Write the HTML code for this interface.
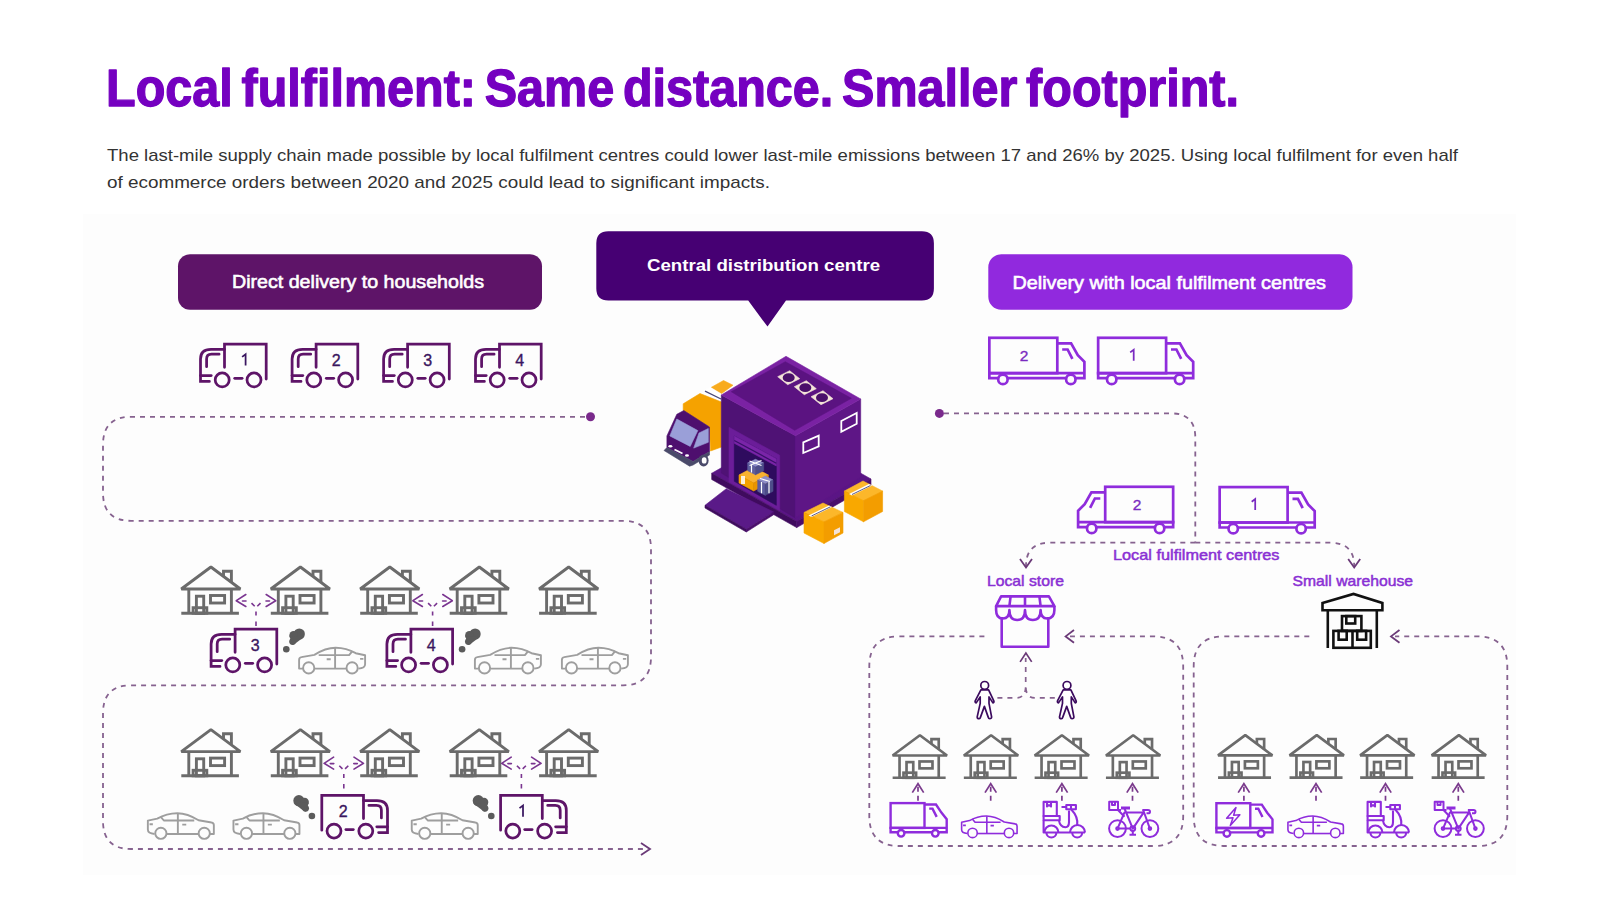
<!DOCTYPE html>
<html><head><meta charset="utf-8">
<style>
html,body{margin:0;padding:0;background:#fff;width:1600px;height:900px;overflow:hidden}
svg{display:block}
text{font-family:"Liberation Sans",sans-serif}
</style></head>
<body>
<svg width="1600" height="900" viewBox="0 0 1600 900">
<defs>

<g id="truckA" fill="none" stroke="#5e1468" stroke-width="2.75" stroke-linecap="round">
<path d="M25.5,24.3 V1.1 H67.2 V36"/>
<path d="M25.5,6.3 H12 Q1.5,6.3 1.5,16 V38.4 H10.4"/>
<path d="M1.5,32.6 H12.2"/>
<path d="M20.1,11.2 H12.5 Q7.6,11.2 7.6,16 V23.7"/>
<circle cx="23.2" cy="36.9" r="7"/>
<circle cx="55" cy="36.9" r="7"/>
<path d="M35.7,35.3 H43.1"/>
</g>
<g id="truckB" fill="none" stroke="#8f2cdc" stroke-width="2.7">
<rect x="1.35" y="1.8" width="67.95" height="35.4"/>
<path d="M69.3,7.3 H83.1 L89.8,19.1 L96.4,25.8 V42.2 H1.35 V37.2 H96.4"/>
<path d="M74.2,13.5 H79.6 L84.4,22.9"/>
<circle cx="14.9" cy="43.4" r="4.7" fill="#fcfcfc"/>
<circle cx="82.8" cy="43.4" r="4.7" fill="#fcfcfc"/>
</g>
<g id="truckS" fill="none" stroke="#8f2cdc" stroke-width="2.4">
<rect x="1.6" y="1.6" width="33.9" height="24.8"/>
<path d="M35.5,3 H47 L52.4,11.1 L57.7,17.7 V30.8 H1.6 V26.4 H57.7"/>
<path d="M40.2,7.1 H43.5 L47.7,15.4"/>
<circle cx="12.1" cy="31.8" r="3.3" fill="#fcfcfc"/>
<circle cx="46.3" cy="31.8" r="3.3" fill="#fcfcfc"/>
</g>
<g id="house" fill="none" stroke="#6b6b6b" stroke-width="2.9" stroke-linejoin="miter">
<path d="M0.7,22.6 L30.3,0.6 L59.8,22.6 Z" stroke-linejoin="bevel"/>
<path d="M42.9,9.8 V4.8 H50.8 V15.8"/>
<path d="M8.2,22.6 V46.8 M50.8,22.6 V46.8"/>
<path d="M0.7,46.8 H58.3"/>
<rect x="15.8" y="29.8" width="7.3" height="17"/>
<rect x="12.5" y="41.3" width="13.7" height="5.5"/>
<rect x="29.9" y="29.1" width="14.1" height="7.5"/>
</g>
<g id="car" fill="none" stroke-width="1.9" stroke-linejoin="round">
<path d="M5.7,21.7 H1.7 V13 Q1.7,10.5 4,10.2 L17,8 Q28,1 38.3,0.9 Q49,1 58.3,6.3 L67.7,8.3 V17.3 Q67.7,21.3 61,21.7"/>
<path d="M17,21.7 H49.1"/>
<circle cx="11.3" cy="21" r="5.6"/>
<circle cx="54.7" cy="21" r="5.6"/>
<path d="M21.3,8.2 H51.7 L55,4.3"/>
<path d="M37.7,1 V21.7"/>
<path d="M29.3,12.3 H33.3 M62.7,12 H66"/>
</g>
<g id="smoke" fill="#5b5b5b">
<circle cx="16.3" cy="6" r="5.6"/>
<circle cx="10.6" cy="7.4" r="4.3"/>
<circle cx="9.6" cy="13.6" r="3.4"/>
<polygon points="6.5,8 21.5,8.5 13,15 9.5,17"/>
<circle cx="3.3" cy="21.3" r="3.3"/>
</g>
<g id="yarr" fill="none" stroke="#7a3590" stroke-width="1.6" stroke-linejoin="round" stroke-linecap="round">
<path d="M-10.2,-6 L-19.7,0.2 L-10.2,6 M10.2,-6 L19.7,0.2 L10.2,6"/>
<path d="M-13.5,0.5 H-10 M10,0.5 H13.5"/>
<path d="M-4.5,2.6 L-1.3,5.8 M1.3,5.8 L4.5,2.6 M0,11 V15 M0,21 V25.5" stroke-linecap="butt"/>
</g>
<g id="uparr" fill="none" stroke="#7a3a8c" stroke-width="1.7">
<path d="M-5.7,8.9 L0,0 L5.7,8.9"/>
<path d="M0,3 V18" stroke-dasharray="5 4"/>
</g>
<g id="store" fill="none" stroke="#8f2cdc" stroke-width="2.6" stroke-linejoin="round">
<path d="M6.1,1.4 H53.9 L59.4,11.1 H1.1 Z"/>
<path d="M15.6,1.4 L14.4,11.1 M30,1.4 V11.1 M44.4,1.4 L45.6,11.1"/>
<path d="M1.1,11.1 V15 Q1.1,23.5 7.8,23.5 Q14.4,23.5 14.4,15 Q14.4,25 22.2,25 Q30,25 30,15 Q30,25 37.8,25 Q45.6,25 45.6,15 Q45.6,23.5 52.2,23.5 Q59.4,23.5 59.4,15 V11.1"/>
<path d="M6.7,22 V51.7 H53.3 V22"/>
</g>
<g id="warehouse" fill="none" stroke="#111" stroke-width="2.6">
<path d="M2.5,9.9 L33.5,0.9 L62.4,9.9 V17.3 H2.5 Z"/>
<path d="M7.8,17.3 V55 M56.8,17.3 V55"/>
<rect x="22" y="23.1" width="19.4" height="14.8"/>
<rect x="26.3" y="23.1" width="8.9" height="7.4"/>
<rect x="13.4" y="37.9" width="37.4" height="16.9"/>
<path d="M32.5,37.9 V54.8"/>
<rect x="18.6" y="37.9" width="8.1" height="8.8"/>
<rect x="37.2" y="37.9" width="8.9" height="8.8"/>
</g>
<g id="person" fill="#fff" stroke="#3b0a5e" stroke-width="1.7" stroke-linejoin="round">
<circle cx="0" cy="0" r="3.9"/>
<path d="M-3.8,4.5 L-9.5,15.5 Q-10,17 -8.5,17.5 L-4.5,11.5 L-4.5,18 L-7.5,31.5 Q-7.5,33.3 -5.5,33.3 Q-4.5,33.3 -4.3,32 L-0.3,21 L3.6,32 Q3.8,33.3 5,33.3 Q7,33.3 6.9,31.5 L4.3,18 L4.3,11.5 L8.2,17.5 Q9.7,17 9.1,15.5 L3.9,4.5 Z"/>
</g>
<g id="scooter" fill="none" stroke="#8f2cdc" stroke-width="2.1" stroke-linejoin="round">
<rect x="1.6" y="1.9" width="13.2" height="14.1"/>
<path d="M5,1.9 V6.5 L7,5 L9,6.5 V1.9"/>
<rect x="1.6" y="16" width="16.1" height="4.2"/>
<path d="M1.6,20.2 V32.5 H43"/>
<path d="M2.4,32.5 A7,7 0 0 1 16.4,32.5"/>
<path d="M4.4,32.5 A5,5 0 0 0 14.4,32.5"/>
<path d="M28,32.5 A7.5,7.5 0 0 1 43,32.5"/>
<path d="M30.2,32.5 A5,5 0 0 0 40.2,32.5"/>
<path d="M16.9,20.2 Q18,27.2 23.4,27.2 Q27,27.2 27,22 V10.6"/>
<path d="M29.1,9.3 Q36.5,17 35.2,25.5"/>
<rect x="24.3" y="5" width="9.6" height="4.3"/>
<path d="M19.5,7 H24.3 M29,5 V9.3"/>
</g>
<g id="bike" fill="none" stroke="#8f2cdc" stroke-width="2" stroke-linejoin="round">
<circle cx="9.5" cy="28.6" r="8.4"/>
<circle cx="41.9" cy="28.6" r="8.4"/>
<circle cx="9.5" cy="28.6" r="1.3"/>
<circle cx="41.9" cy="28.6" r="1.3"/>
<circle cx="24.8" cy="28.6" r="2.4"/>
<path d="M9.5,28.6 H22.4 M9.5,28.6 L16.5,12.4 H35.7 L24.8,28.6 L16.5,8.5 M35,9.5 L41.9,28.6"/>
<path d="M13,8 H22" stroke-width="3"/>
<path d="M34.5,10 H40 Q42,10 42,11.7 Q42,13.3 40,13.3 H38.5"/>
<rect x="1.2" y="1.8" width="8.8" height="8.2"/>
<path d="M4,1.8 V5 H7 V1.8 M10,10 H13 M10,10 L16.5,16.7"/>
<path d="M24.8,31 V34.7 M21.5,34.7 H28"/>
</g>

</defs>
<rect x="0" y="0" width="1600" height="900" fill="#fff"/>
<rect x="83" y="214" width="1433" height="661" fill="#fdfdfd"/>

<!-- TITLE -->
<text x="106" y="105.6" font-size="51" font-weight="bold" fill="#7500c0" stroke="#7500c0" stroke-width="1.3" stroke-linejoin="round" word-spacing="-5" textLength="1133" lengthAdjust="spacingAndGlyphs">Local fulfilment: Same distance. Smaller footprint.</text>
<text x="107" y="160.6" font-size="17" fill="#333" textLength="1351" lengthAdjust="spacingAndGlyphs">The last-mile supply chain made possible by local fulfilment centres could lower last-mile emissions between 17 and 26% by 2025. Using local fulfilment for even half</text>
<text x="107" y="187.5" font-size="17" fill="#333" textLength="663" lengthAdjust="spacingAndGlyphs">of ecommerce orders between 2020 and 2025 could lead to significant impacts.</text>

<!-- LABEL BOXES -->
<rect x="178" y="254.3" width="364" height="55.5" rx="12" fill="#5e1468"/>
<text x="232" y="288.2" font-size="18.8" fill="#fff" stroke="#fff" stroke-width="0.6" textLength="252" lengthAdjust="spacingAndGlyphs">Direct delivery to households</text>

<path d="M608.3,231.3 H921.9 Q933.9,231.3 933.9,243.3 V288.6 Q933.9,300.6 921.9,300.6 H786 L767.5,326.6 L748.2,300.6 H608.3 Q596.3,300.6 596.3,288.6 V243.3 Q596.3,231.3 608.3,231.3 Z" fill="#460073"/>
<text x="647" y="270.9" font-size="17" font-weight="bold" fill="#fff" textLength="233" lengthAdjust="spacingAndGlyphs">Central distribution centre</text>

<rect x="988.3" y="254.3" width="364.2" height="55.5" rx="13" fill="#9129de"/>
<text x="1012.5" y="288.7" font-size="18.5" fill="#fff" stroke="#fff" stroke-width="0.6" textLength="313.5" lengthAdjust="spacingAndGlyphs">Delivery with local fulfilment centres</text>

<!-- LEFT PATH -->
<g fill="none" stroke="#86628f" stroke-width="1.8" stroke-dasharray="5 5">
<path d="M585,416.8 H131 Q103,416.8 103,444.8 V492.8 Q103,520.8 131,520.8 H623 Q651,520.8 651,548.8 V657 Q651,685.3 623,685.3 H131 Q103,685.3 103,713.3 V821 Q103,849 131,849 H648"/>
</g>
<circle cx="590.5" cy="416.8" r="4.5" fill="#7a2a8c"/>
<path d="M641,843 L650,849 L641,855" fill="none" stroke="#6b3a78" stroke-width="1.8"/>

<!-- RIGHT PATHS -->
<g fill="none" stroke="#86628f" stroke-width="1.8" stroke-dasharray="5 5">
<path d="M944,413.4 H1171 Q1195.3,413.4 1195.3,437.7 V542.7"/>
<path d="M1195.3,542.7 H1050 Q1026,542.7 1026,566"/>
<path d="M1195.3,542.7 H1330 Q1354.2,542.7 1354.2,566"/>
</g>
<circle cx="939.4" cy="413.4" r="4.5" fill="#7a2a8c"/>
<path d="M1020,559 L1026,567.5 L1032,559 M1348.2,559 L1354.2,567.5 L1360.2,559" fill="none" stroke="#6b3a78" stroke-width="1.8"/>

<!-- LABELS RIGHT -->
<text x="1113" y="559.6" font-size="15" fill="#8a30d4" stroke="#8a30d4" stroke-width="0.5" textLength="166.5" lengthAdjust="spacingAndGlyphs">Local fulfilment centres</text>
<text x="986.9" y="586.1" font-size="15" fill="#8a30d4" stroke="#8a30d4" stroke-width="0.5" textLength="77" lengthAdjust="spacingAndGlyphs">Local store</text>
<text x="1292.5" y="585.8" font-size="15" fill="#8a30d4" stroke="#8a30d4" stroke-width="0.5" textLength="120.5" lengthAdjust="spacingAndGlyphs">Small warehouse</text>

<!-- BOTTOM RIGHT BOXES -->
<g fill="none" stroke="#86628f" stroke-width="1.8" stroke-dasharray="5 5">
<path d="M984.4,636.4 H899.3 Q869.3,636.4 869.3,666.4 V816 Q869.3,846 899.3,846 H1153.2 Q1183.2,846 1183.2,816 V666.4 Q1183.2,636.4 1153.2,636.4 H1070"/>
<path d="M1309.3,636.4 H1223.7 Q1193.7,636.4 1193.7,666.4 V816 Q1193.7,846 1223.7,846 H1477.3 Q1507.3,846 1507.3,816 V666.4 Q1507.3,636.4 1477.3,636.4 H1395"/>
</g>
<path d="M1074,630 L1065.6,636.4 L1074,642.8 M1399.5,630 L1391,636.4 L1399.5,642.8" fill="none" stroke="#6b3a78" stroke-width="1.8"/>

<!-- PLACED -->
<use href="#truckA" x="199" y="343"/>
<path d="M242.1,356.9 L245.6,354.3 V365.5" fill="none" stroke="#3a1660" stroke-width="1.75"/>
<use href="#truckA" x="290.6" y="343"/>
<text x="336.3" y="365.5" font-size="16" fill="#3a1660" stroke="#3a1660" stroke-width="0.35" text-anchor="middle">2</text>
<use href="#truckA" x="382.1" y="343"/>
<text x="427.8" y="365.5" font-size="16" fill="#3a1660" stroke="#3a1660" stroke-width="0.35" text-anchor="middle">3</text>
<use href="#truckA" x="474" y="343"/>
<text x="519.7" y="365.5" font-size="16" fill="#3a1660" stroke="#3a1660" stroke-width="0.35" text-anchor="middle">4</text>
<use href="#house" x="180.6" y="566.4"/>
<use href="#house" x="180.6" y="729"/>
<use href="#house" x="270.1" y="566.4"/>
<use href="#house" x="270.1" y="729"/>
<use href="#house" x="359.5" y="566.4"/>
<use href="#house" x="359.5" y="729"/>
<use href="#house" x="449.0" y="566.4"/>
<use href="#house" x="449.0" y="729"/>
<use href="#house" x="538.4" y="566.4"/>
<use href="#house" x="538.4" y="729"/>
<use href="#truckA" x="209.6" y="628"/>
<text x="255.3" y="650.5" font-size="16" fill="#3a1660" stroke="#3a1660" stroke-width="0.35" text-anchor="middle">3</text>
<use href="#truckA" x="385.4" y="628"/>
<text x="431.09999999999997" y="650.5" font-size="16" fill="#3a1660" stroke="#3a1660" stroke-width="0.35" text-anchor="middle">4</text>
<use href="#car" stroke="#9e9e9e" x="297.4" y="646.9"/>
<use href="#car" stroke="#9e9e9e" x="473.2" y="646.9"/>
<use href="#car" stroke="#9e9e9e" x="560.2" y="646.9"/>
<use href="#smoke" x="283" y="628"/>
<use href="#smoke" x="458.8" y="628"/>
<use href="#yarr" transform="translate(256,600.5)"/>
<use href="#yarr" transform="translate(432.6,600.5)"/>
<use href="#truckA" transform="translate(389,794.2) scale(-1,1)"/>
<text x="343.3" y="816.7" font-size="16" fill="#3a1660" stroke="#3a1660" stroke-width="0.35" text-anchor="middle">2</text>
<use href="#truckA" transform="translate(567.8,794.2) scale(-1,1)"/>
<path d="M519.5,808.1 L523.0,805.5 V816.7" fill="none" stroke="#3a1660" stroke-width="1.75"/>
<use href="#car" stroke="#9e9e9e" transform="translate(215.55,812.3) scale(-1,1)"/>
<use href="#car" stroke="#9e9e9e" transform="translate(301.15,812.3) scale(-1,1)"/>
<use href="#car" stroke="#9e9e9e" transform="translate(479.45,812.3) scale(-1,1)"/>
<use href="#smoke" transform="translate(315.2,794.7) scale(-1,1)"/>
<use href="#smoke" transform="translate(494.6,794.7) scale(-1,1)"/>
<use href="#yarr" transform="translate(343.8,763.1)"/>
<use href="#yarr" transform="translate(521.4,763.1)"/>
<use href="#truckB" x="988" y="336"/>
<text x="1024" y="360.7" font-size="15.5" fill="#7a2ac0" stroke="#7a2ac0" stroke-width="0.35" text-anchor="middle">2</text>
<use href="#truckB" x="1096.8" y="336"/>
<path d="M1130.2,352.4 L1133.7,349.8 V360.7" fill="none" stroke="#7a2ac0" stroke-width="1.75"/>
<use href="#truckB" transform="translate(1174.5,485) scale(-1,1)"/>
<text x="1137" y="509.7" font-size="15.5" fill="#7a2ac0" stroke="#7a2ac0" stroke-width="0.35" text-anchor="middle">2</text>
<use href="#truckB" x="1218.3" y="485.3"/>
<path d="M1251.7,501.8 L1255.2,499.1 V510.0" fill="none" stroke="#7a2ac0" stroke-width="1.75"/>
<use href="#house" transform="translate(892,734.7) scale(0.92)"/>
<use href="#house" transform="translate(963.2,734.7) scale(0.92)"/>
<use href="#house" transform="translate(1034,734.7) scale(0.92)"/>
<use href="#house" transform="translate(1105.3,734.7) scale(0.92)"/>
<use href="#house" transform="translate(1217.4,734.6) scale(0.92)"/>
<use href="#house" transform="translate(1288.9,734.6) scale(0.92)"/>
<use href="#house" transform="translate(1359.5,734.6) scale(0.92)"/>
<use href="#house" transform="translate(1431,734.6) scale(0.92)"/>
<use href="#truckS" x="889" y="801.5"/>
<use href="#car" stroke="#8f2cdc" stroke-width="2.7" transform="translate(1018.5,815.3) scale(-0.84,0.84)"/>
<use href="#scooter" x="1042" y="800"/>
<use href="#bike" x="1108" y="800"/>
<use href="#truckS" x="1214.8" y="801.6"/>
<polygon points="1236,807.6 1226.6,818.3 1233,817.8 1230.3,825.5 1239.9,814.8 1233.6,815.2" fill="none" stroke="#8f2cdc" stroke-width="1.5" stroke-linejoin="round"/>
<use href="#car" stroke="#8f2cdc" stroke-width="2.7" transform="translate(1344.8,815.3) scale(-0.84,0.84)"/>
<use href="#scooter" x="1366" y="800"/>
<use href="#bike" x="1433.5" y="800"/>
<use href="#uparr" transform="translate(918,783.7)"/>
<use href="#uparr" transform="translate(990.7,783.7)"/>
<use href="#uparr" transform="translate(1061.9,783.7)"/>
<use href="#uparr" transform="translate(1132.5,783.7)"/>
<use href="#uparr" transform="translate(1243.9,783.7)"/>
<use href="#uparr" transform="translate(1316,783.7)"/>
<use href="#uparr" transform="translate(1385.5,783.7)"/>
<use href="#uparr" transform="translate(1458.3,783.7)"/>
<use href="#person" x="984.7" y="685.4"/>
<use href="#person" x="1067" y="685.4"/>
<path d="M997.4,697.9 H1016 Q1025.7,697.9 1025.7,686 V658 M1054.8,697.9 H1035 Q1025.7,697.9 1025.7,686" fill="none" stroke="#86628f" stroke-width="1.7" stroke-dasharray="5 5"/>
<path d="M1020.1,661.9 L1025.9,653 L1031.7,661.9" fill="none" stroke="#6b3a78" stroke-width="1.7"/>
<use href="#store" x="995" y="595"/>
<use href="#warehouse" x="1320" y="593"/>
<g id="building">
<!-- truck behind -->
<polygon points="711,387.5 723.5,380.5 733,385.2 721,393.9" fill="#f8ab1e" stroke="#f8ab1e" stroke-width="0.6" stroke-linejoin="round"/>
<polygon points="699,393 710.6,387.5 721.5,394 721.5,402.5" fill="#ffffff" stroke="#ffffff" stroke-width="0.6" stroke-linejoin="round"/>
<path d="M705,391.2 L721,399" stroke="#4a4a78" stroke-width="1.3"/>
<polygon points="683.2,403.8 700,393.5 721.5,402 721.5,447 710.5,451 709.5,427 683.2,410.5" fill="#f5a200" stroke="#f5a200" stroke-width="0.6" stroke-linejoin="round"/>
<polygon points="676.8,414.3 683.8,410.5 709.5,427 709.5,451.6 693.1,461.5 666.9,447.6 666.9,435.9" fill="#4e0f6e" stroke="#4e0f6e" stroke-width="0.6" stroke-linejoin="round"/>
<polygon points="676.8,419 697.8,430.6 690.2,446.4 669.8,435.9" fill="#9a9fd8" stroke="#9a9fd8" stroke-width="0.6" stroke-linejoin="round"/>
<polygon points="699,433 708.3,428.5 708.3,442.3 693.7,448.1" fill="#9a9fd8" stroke="#9a9fd8" stroke-width="0.6" stroke-linejoin="round"/>
<polygon points="664,450.5 666.9,447.6 693.1,461.5 709.5,451.6 709.5,455 693.1,465 689.6,466.2" fill="#4a4a6a" stroke="#4a4a6a" stroke-width="0.6" stroke-linejoin="round"/>
<ellipse cx="703.6" cy="460.4" rx="5" ry="6" fill="#4a4a6a"/>
<ellipse cx="704.2" cy="460.4" rx="2.4" ry="3.2" fill="#fff"/>
<ellipse cx="670.4" cy="446.2" rx="2" ry="1.3" fill="#fff"/>
<ellipse cx="687" cy="455.5" rx="2" ry="1.3" fill="#fff"/>
<path d="M674.5,449.5 L682.5,453.5" stroke="#fff" stroke-width="1.6"/>
<!-- plinth -->
<polygon points="711.7,473.3 786,431 871,479 796.7,521.5" fill="#5a1585" stroke="#5a1585" stroke-width="0.6" stroke-linejoin="round"/>
<polygon points="711.7,473.3 796.7,521.5 796.7,527.6 711.7,479.5" fill="#3f0b5e" stroke="#3f0b5e" stroke-width="0.6" stroke-linejoin="round"/>
<polygon points="796.7,521.5 871,479 871,485 796.7,527.6" fill="#4a0e6c" stroke="#4a0e6c" stroke-width="0.6" stroke-linejoin="round"/>
<!-- building walls -->
<polygon points="721.3,395 795.3,435.7 795.3,518 721.3,473" fill="#4f1275" stroke="#4f1275" stroke-width="0.6" stroke-linejoin="round"/>
<polygon points="795.3,435.7 860.7,399 860.7,477 795.3,518" fill="#5e1686" stroke="#5e1686" stroke-width="0.6" stroke-linejoin="round"/>
<!-- ramp -->
<polygon points="705,505.3 726.3,488.7 773.7,512 746.3,529.3" fill="#5a1a88" stroke="#5a1a88" stroke-width="0.6" stroke-linejoin="round"/>
<polygon points="705,505.3 746.3,529.3 746.3,532 705,508" fill="#3f0c5e" stroke="#3f0c5e" stroke-width="0.6" stroke-linejoin="round"/>
<polygon points="746.3,529.3 773.7,512 773.7,514.7 746.3,532" fill="#4a0e6c" stroke="#4a0e6c" stroke-width="0.6" stroke-linejoin="round"/>
<!-- door -->
<polygon points="729,427.3 779.7,455.3 779.7,510.7 729,482" fill="#6b1d99" stroke="#6b1d99" stroke-width="0.6" stroke-linejoin="round"/>
<polygon points="734.3,436 776.3,458.7 776.3,505.3 734.3,481.3" fill="#2e0b5e" stroke="#2e0b5e" stroke-width="0.6" stroke-linejoin="round"/>
<polygon points="734.3,436 776.3,458.7 776.3,466 734.3,443.3" fill="#7a25a8" stroke="#7a25a8" stroke-width="0.6" stroke-linejoin="round"/>
<path d="M734.3,440.5 L776.3,463.2" stroke="#3a0f6a" stroke-width="1.2"/>
<!-- gifts -->
<polygon points="739,475 753.7,467 768.3,475 753.7,483" fill="#f9b230" stroke="#f9b230" stroke-width="0.6" stroke-linejoin="round"/>
<polygon points="739,475 753.7,483 753.7,491 739,483" fill="#f5a200" stroke="#f5a200" stroke-width="0.6" stroke-linejoin="round"/>
<polygon points="753.7,483 768.3,475 768.3,483 753.7,491" fill="#e99500" stroke="#e99500" stroke-width="0.6" stroke-linejoin="round"/>
<rect x="741" y="476" width="4" height="8" fill="#fff" opacity="0.85"/>
<polygon points="747.7,463 755.5,459.3 763.7,463 755.5,467" fill="#8e8ec8" stroke="#8e8ec8" stroke-width="0.6" stroke-linejoin="round"/>
<polygon points="747.7,463 755.5,467 755.5,474.7 747.7,470.7" fill="#5e5e9e" stroke="#5e5e9e" stroke-width="0.6" stroke-linejoin="round"/>
<polygon points="755.5,467 763.7,463 763.7,470.7 755.5,474.7" fill="#4e4e8a" stroke="#4e4e8a" stroke-width="0.6" stroke-linejoin="round"/>
<path d="M749.5,461 L761.5,465.5 M761.5,460.5 L749.5,465.5 M751.5,465 V472.5" stroke="#fff" stroke-width="1.2"/>
<polygon points="757.7,480 765.3,476 773,480 765.3,484" fill="#8e8ec8" stroke="#8e8ec8" stroke-width="0.6" stroke-linejoin="round"/>
<polygon points="757.7,480 765.3,484 765.3,495.3 757.7,491.3" fill="#5e5e9e" stroke="#5e5e9e" stroke-width="0.6" stroke-linejoin="round"/>
<polygon points="765.3,484 773,480 773,491.3 765.3,495.3" fill="#4e4e8a" stroke="#4e4e8a" stroke-width="0.6" stroke-linejoin="round"/>
<path d="M761.5,482 V493.3 M769,482 V493.3 M760,478.5 L770,481.5" stroke="#fff" stroke-width="1.2"/>
<!-- roof -->
<polygon points="786,356.3 860.7,399 795.3,435.7 721.3,395" fill="#7a22a3" stroke="#7a22a3" stroke-width="0.6" stroke-linejoin="round"/>
<polygon points="785.3,361.7 851.3,398.3 794.7,430.3 731.3,391.7" fill="#5b1381" stroke="#5b1381" stroke-width="0.6" stroke-linejoin="round"/>
<!-- vents -->
<g transform="translate(788.7,377.7)"><polygon points="-11,-1 1,-7 11,1 -1,7" fill="#f4e4d8" stroke="#f4e4d8" stroke-width="0.6" stroke-linejoin="round"/><ellipse cx="0" cy="0" rx="6" ry="4.4" fill="#4a0f6a"/></g>
<g transform="translate(805.3,387.7)"><polygon points="-11,-1 1,-7 11,1 -1,7" fill="#f4e4d8" stroke="#f4e4d8" stroke-width="0.6" stroke-linejoin="round"/><ellipse cx="0" cy="0" rx="6" ry="4.4" fill="#4a0f6a"/></g>
<g transform="translate(822,397.7)"><polygon points="-11,-1 1,-7 11,1 -1,7" fill="#f4e4d8" stroke="#f4e4d8" stroke-width="0.6" stroke-linejoin="round"/><ellipse cx="0" cy="0" rx="6" ry="4.4" fill="#4a0f6a"/></g>
<!-- windows -->
<polygon points="803.3,442.3 818.7,435.7 818.7,446.3 803.3,453" fill="none" stroke="#fff" stroke-width="1.8"/>
<polygon points="841.3,421 856.7,413 856.7,423.7 841.3,431.7" fill="none" stroke="#fff" stroke-width="1.8"/>
<!-- boxes -->
<polygon points="844.4,491 863,481 882.6,491 863.5,500.5" fill="#fcb72a" stroke="#fcb72a" stroke-width="0.6" stroke-linejoin="round"/>
<polygon points="844.4,491 863.5,500.5 863.5,521.8 844.4,511.5" fill="#f9a800" stroke="#f9a800" stroke-width="0.6" stroke-linejoin="round"/>
<polygon points="863.5,500.5 882.6,491 882.6,511.5 863.5,521.8" fill="#f39d00" stroke="#f39d00" stroke-width="0.6" stroke-linejoin="round"/>
<polygon points="849,494 869,484 872,485.5 852,495.5" fill="#fff"/>
<path d="M852,494.5 L870.5,485.5" stroke="#4a4a78" stroke-width="0.9"/>
<polygon points="804,512.4 823,503 843,512.4 824,521.8" fill="#fcb72a" stroke="#fcb72a" stroke-width="0.6" stroke-linejoin="round"/>
<polygon points="804,512.4 824,521.8 824,543.5 804,533" fill="#f9a800" stroke="#f9a800" stroke-width="0.6" stroke-linejoin="round"/>
<polygon points="824,521.8 843,512.4 843,533 824,543.5" fill="#f39d00" stroke="#f39d00" stroke-width="0.6" stroke-linejoin="round"/>
<polygon points="808.5,515.5 829,505.5 832,507 811.5,517" fill="#fff"/>
<path d="M811.5,516 L830.5,506.8" stroke="#4a4a78" stroke-width="0.9"/>
<rect x="834" y="527" width="6" height="5" fill="#f4e4d8" transform="skewY(-26) translate(0,410)"/>
</g>

</svg>
</body></html>
